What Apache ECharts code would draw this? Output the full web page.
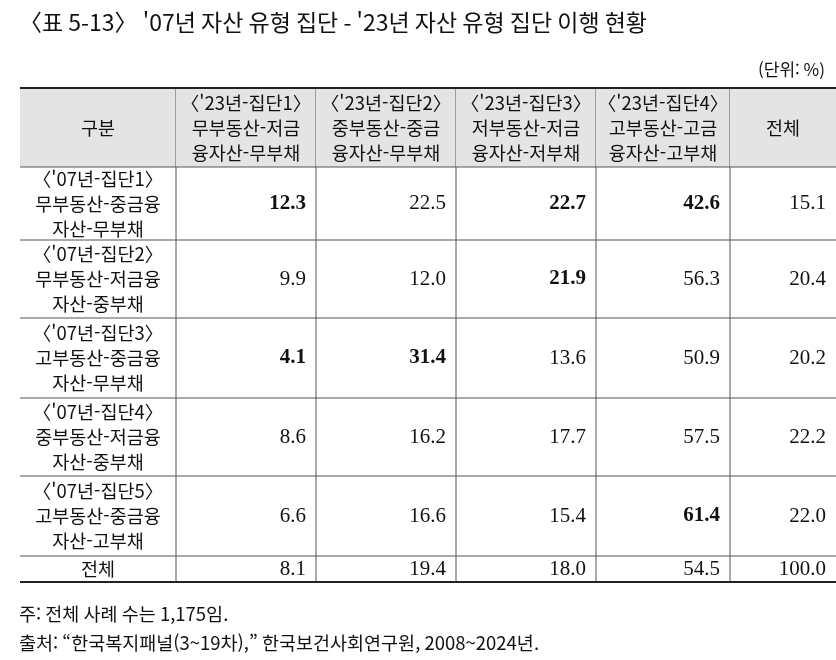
<!DOCTYPE html>
<html lang="ko">
<head>
<meta charset="UTF-8">
<title>표 5-13</title>
<script src="https://cdn.jsdelivr.net/npm/echarts@6/dist/echarts.min.js"></script>
<style>body{margin:0;background:#fff}</style>
</head>
<body>
<div id="main" style="width:836px;height:660px;"></div>
<script>
const colHeaders = ['구분', "〈'23년-집단1〉\n무부동산-저금\n융자산-무부채", "〈'23년-집단2〉\n중부동산-중금\n융자산-무부채",
  "〈'23년-집단3〉\n저부동산-저금\n융자산-저부채", "〈'23년-집단4〉\n고부동산-고금\n융자산-고부채", '전체'];
const rowLabels = ["〈'07년-집단1〉\n무부동산-중금융\n자산-무부채", "〈'07년-집단2〉\n무부동산-저금융\n자산-중부채",
  "〈'07년-집단3〉\n고부동산-중금융\n자산-무부채", "〈'07년-집단4〉\n중부동산-저금융\n자산-중부채",
  "〈'07년-집단5〉\n고부동산-중금융\n자산-고부채", '전체'];
const values = [
  ['12.3', '22.5', '22.7', '42.6', '15.1'],
  ['9.9', '12.0', '21.9', '56.3', '20.4'],
  ['4.1', '31.4', '13.6', '50.9', '20.2'],
  ['8.6', '16.2', '17.7', '57.5', '22.2'],
  ['6.6', '16.6', '15.4', '61.4', '22.0'],
  ['8.1', '19.4', '18.0', '54.5', '100.0']
];
const boldCells = [[0,0],[0,2],[0,3],[1,2],[2,0],[2,1],[4,3]];

// layout (pixel units on hidden value axes)
const colW = [156, 140, 140, 140, 134, 106];
const rowH = [79, 73, 78, 80, 78, 80, 26];
const colEdge = [0]; colW.forEach(w => colEdge.push(colEdge[colEdge.length - 1] + w));
const rowEdge = [0]; rowH.forEach(h => rowEdge.push(rowEdge[rowEdge.length - 1] + h));

const cells = [];
colHeaders.forEach((t, c) => cells.push([c, 0, t, 'head']));
rowLabels.forEach((t, r) => {
  cells.push([0, r + 1, t, 'label']);
  values[r].forEach((v, c) => {
    const b = boldCells.some(p => p[0] === r && p[1] === c);
    cells.push([c + 1, r + 1, v, b ? 'bold' : 'num']);
  });
});

const nCol = colW.length, nRow = rowH.length;
const korean = '"Noto Sans CJK KR", sans-serif';
const serif = '"Liberation Serif", "DejaVu Serif", serif';

function renderItem(params, api) {
  const c = api.value(0), r = api.value(1);
  const kind = cells[params.dataIndex][3];
  const text = cells[params.dataIndex][2];
  const p0 = api.coord([colEdge[c], rowEdge[r]]);
  const p1 = api.coord([colEdge[c + 1], rowEdge[r + 1]]);
  const x = p0[0], y = p0[1], w = p1[0] - p0[0], h = p1[1] - p0[1];
  const kids = [];
  if (kind === 'head') kids.push({type: 'rect', shape: {x, y, width: w, height: h}, style: {fill: '#e4e4e4'}});
  const isLast = r === nRow - 1;
  kids.push({type: 'line', shape: {x1: x, y1: y + h, x2: x + w, y2: y + h},
    style: {stroke: isLast ? '#222' : '#555', lineWidth: isLast ? 2 : 1}});
  if (c < nCol - 1) kids.push({type: 'line', shape: {x1: x + w, y1: y, x2: x + w, y2: y + h}, style: {stroke: '#555', lineWidth: 1}});
  if (r === 0) kids.push({type: 'line', shape: {x1: x, y1: y, x2: x + w, y2: y}, style: {stroke: '#222', lineWidth: 2}});
  const numeric = kind === 'num' || kind === 'bold';
  kids.push({type: 'text', style: {
    text, x: numeric ? x + w - 10 : x + w / 2, y: y + h / 2,
    align: numeric ? 'right' : 'center', verticalAlign: 'middle',
    font: (kind === 'bold' ? 'bold ' : '') + (numeric ? '21px ' + serif : '18.5px ' + korean),
    lineHeight: 25, fill: '#111'
  }});
  return {type: 'group', children: kids};
}

const chart = echarts.init(document.getElementById('main'));
chart.setOption({
  animation: false,
  title: [
    {text: "〈표 5-13〉 '07년 자산 유형 집단 - '23년 자산 유형 집단 이행 현황", left: 14, top: 6,
      textStyle: {fontFamily: korean, fontSize: 23, fontWeight: 'normal', color: '#111'}},
    {text: '(단위: %)', right: 6, top: 56, textStyle: {fontFamily: korean, fontSize: 17, fontWeight: 'normal', color: '#111'}},
    {text: '주: 전체 사례 수는 1,175임.\n출처: “한국복지패널(3~19차),” 한국보건사회연구원, 2008~2024년.', left: 14, top: 594,
      textStyle: {fontFamily: korean, fontSize: 18.5, fontWeight: 'normal', color: '#111', lineHeight: 29}}
  ],
  grid: {left: 20, right: 0, top: 88, height: rowEdge[nRow]},
  xAxis: {type: 'value', min: 0, max: colEdge[nCol], show: false},
  yAxis: {type: 'value', min: 0, max: rowEdge[nRow], inverse: true, show: false},
  series: [{type: 'custom', renderItem, data: cells.map(d => [d[0], d[1]]), clip: false}]
});
</script>
</body>
</html>
